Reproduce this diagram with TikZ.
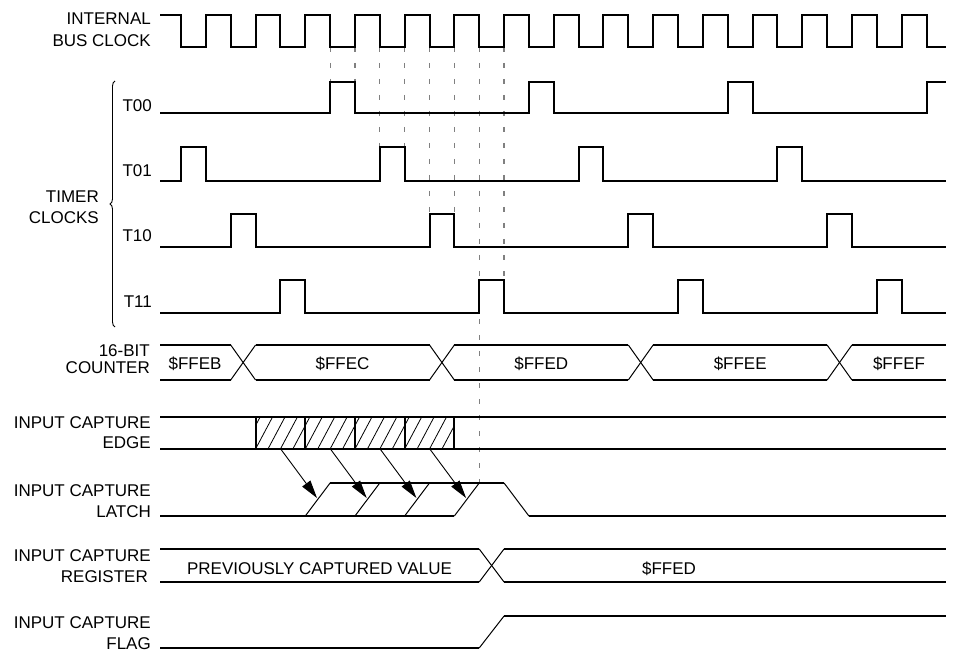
\documentclass[tikz,border=0pt]{standalone}
\usepackage{fontspec}
\setmainfont{Liberation Sans}
\usetikzlibrary{arrows.meta,decorations.pathreplacing}
\tikzset{
  sig/.style={line width=2pt},
  thinl/.style={line width=1pt},
  hatchl/.style={line width=0.8pt},
  dsh/.style={gray, line width=1.2pt, dash pattern=on 5pt off 11pt},
  lbl/.style={anchor=base east, inner sep=0pt, font=\fontsize{17}{20}\selectfont},
  val/.style={anchor=base, inner sep=0pt, font=\fontsize{17}{20}\selectfont},
  arr/.style={line width=0.9pt, -{Triangle[length=18pt,width=10pt]}},
}
\begin{document}
\begin{tikzpicture}[x=1pt,y=-1pt]
\useasboundingbox (0,0) rectangle (953,652);

% ---------- labels ----------
\node[lbl] (l1a) at (151,25) {INTERNAL};
\node[lbl] (l1b) at (151,46.5) {BUS CLOCK};
\node[lbl] (lt00) at (152,112) {T00};
\node[lbl] (lt01) at (152,176.5) {T01};
\node[lbl] (lt10) at (152,241.5) {T10};
\node[lbl] (lt11) at (152,308) {T11};
\node[lbl] (ltc1) at (99,203) {TIMER};
\node[lbl] (ltc2) at (99,223.5) {CLOCKS};
\node[lbl] (lc1) at (150,356.5) {16-BIT};
\node[lbl] (lc2) at (150,373.5) {COUNTER};
\node[lbl] (le1) at (151,428) {INPUT CAPTURE};
\node[lbl] (le2) at (151,448) {EDGE};
\node[lbl] (la1) at (151,496.7) {INPUT CAPTURE};
\node[lbl] (la2) at (151,517) {LATCH};
\node[lbl] (lr1) at (151,561.7) {INPUT CAPTURE};
\node[lbl] (lr2) at (148,582.3) {REGISTER};
\node[lbl] (lf1) at (151,628) {INPUT CAPTURE};
\node[lbl] (lf2) at (151,649) {FLAG};

% brace
\draw[line width=0.9pt, decorate, decoration={brace, amplitude=5pt}] (115,327) -- (115,81);

% ---------- dashed guides ----------
\draw[dsh] (330.1,47) -- (330.1,82);
\draw[dsh] (354.95,47) -- (354.95,82);
\draw[dsh] (379.8,47) -- (379.8,147);
\draw[dsh] (404.65,47) -- (404.65,147);
\draw[dsh] (429.5,47) -- (429.5,214);
\draw[dsh] (454.35,47) -- (454.35,214);
\draw[dsh] (479.2,47) -- (479.2,483);
\draw[dsh] (504.05,47) -- (504.05,280);

% ---------- bus clock ----------
\draw[sig] (160,15) foreach \k in {0,...,14} {
   -- ({181+49.7*\k},15) -- ({181+49.7*\k},47) -- ({205.85+49.7*\k},47) -- ({205.85+49.7*\k},15)}
   -- (926.5,15) -- (926.5,47) -- (946,47);

% ---------- timer clocks ----------
\draw[sig] (160,113) -- (330.1,113) -- (330.1,82) -- (354.95,82) -- (354.95,113) -- (528.9,113) -- (528.9,82) -- (553.75,82) -- (553.75,113) -- (727.7,113) -- (727.7,82) -- (752.55,82) -- (752.55,113) -- (926.5,113) -- (926.5,82) -- (946,82);
\draw[sig] (160,181) -- (181,181) -- (181,147) -- (205.85,147) -- (205.85,181) -- (379.8,181) -- (379.8,147) -- (404.65,147) -- (404.65,181) -- (578.6,181) -- (578.6,147) -- (603.45,147) -- (603.45,181) -- (777.4,181) -- (777.4,147) -- (802.25,147) -- (802.25,181) -- (946,181);
\draw[sig] (160,247) -- (230.7,247) -- (230.7,214) -- (255.55,214) -- (255.55,247) -- (429.5,247) -- (429.5,214) -- (454.35,214) -- (454.35,247) -- (628.3,247) -- (628.3,214) -- (653.15,214) -- (653.15,247) -- (827.1,247) -- (827.1,214) -- (851.95,214) -- (851.95,247) -- (946,247);
\draw[sig] (160,313) -- (280.4,313) -- (280.4,280) -- (305.25,280) -- (305.25,313) -- (479.2,313) -- (479.2,280) -- (504.05,280) -- (504.05,313) -- (678,313) -- (678,280) -- (702.85,280) -- (702.85,313) -- (876.8,313) -- (876.8,280) -- (901.65,280) -- (901.65,313) -- (946,313);

% ---------- 16-bit counter ----------
\foreach \a/\b in {160/230.7, 255.55/429.5, 454.35/628.3, 653.15/827.1, 851.95/946} {
  \draw[sig] (\a,345) -- (\b,345);
  \draw[sig] (\a,380) -- (\b,380);
}
\foreach \a/\b in {230.7/255.55, 429.5/454.35, 628.3/653.15, 827.1/851.95} {
  \draw[thinl] (\a,345) -- (\b,380);
  \draw[thinl] (\a,380) -- (\b,345);
}
\node[val] (c1) at (195,369) {\$FFEB};
\node[val] (c2) at (342.5,369) {\$FFEC};
\node[val] (c3) at (541.3,369) {\$FFED};
\node[val] (c4) at (740.2,369) {\$FFEE};
\node[val] (c5) at (899,369) {\$FFEF};

% ---------- input capture edge ----------
\draw[sig] (160,417) -- (946,417);
\draw[sig] (160,449) -- (946,449);
\foreach \i in {0,...,3} {
  \pgfmathsetmacro\L{255.55+49.7*\i}
  \begin{scope}
    \clip (\L,417) rectangle ({\L+49.7},449);
    \foreach \h in {-2,...,4} {
      \draw[hatchl] ({\L+12.43*\h},449) -- ({\L+12.43*\h+17},417);
    }
  \end{scope}
}
\draw[sig] (255.55,417) rectangle (454.35,449);
\draw[sig] (305.25,417) -- (305.25,449);
\draw[sig] (354.95,417) -- (354.95,449);
\draw[sig] (404.65,417) -- (404.65,449);

% ---------- input capture latch ----------
\draw[sig] (160,516) -- (454.35,516);
\draw[sig] (330.1,483) -- (504.05,483);
\draw[sig] (528.9,516) -- (946,516);
\draw[thinl] (305.25,516) -- (330.1,483);
\draw[thinl] (354.95,516) -- (379.8,483);
\draw[thinl] (404.65,516) -- (429.5,483);
\draw[thinl] (454.35,516) -- (479.2,483);
\draw[thinl] (504.05,483) -- (528.9,516);

% arrows edge -> latch
\coordinate (e1) at (280.7,449); \coordinate (t1) at (317,498);
\coordinate (e2) at (330.4,449); \coordinate (t2) at (366.7,498);
\coordinate (e3) at (380.1,449); \coordinate (t3) at (416.4,498);
\coordinate (e4) at (429.8,449); \coordinate (t4) at (466.1,498);
\draw[arr] (e1) -- (t1);
\draw[arr] (e2) -- (t2);
\draw[arr] (e3) -- (t3);
\draw[arr] (e4) -- (t4);

% ---------- input capture register ----------
\draw[sig] (160,549) -- (479.2,549);
\draw[sig] (160,582) -- (479.2,582);
\draw[sig] (504.05,549) -- (946,549);
\draw[sig] (504.05,582) -- (946,582);
\draw[thinl] (479.2,549) -- (504.05,582);
\draw[thinl] (479.2,582) -- (504.05,549);
\node[val] (r1) at (319.5,574) {PREVIOUSLY CAPTURED VALUE};
\node[val] (r2) at (669,574) {\$FFED};

% ---------- input capture flag ----------
\draw[sig] (160,648) -- (479.2,648);
\draw[thinl] (479.2,648) -- (504.05,616);
\draw[sig] (504.05,616) -- (946,616);
\end{tikzpicture}
\end{document}
